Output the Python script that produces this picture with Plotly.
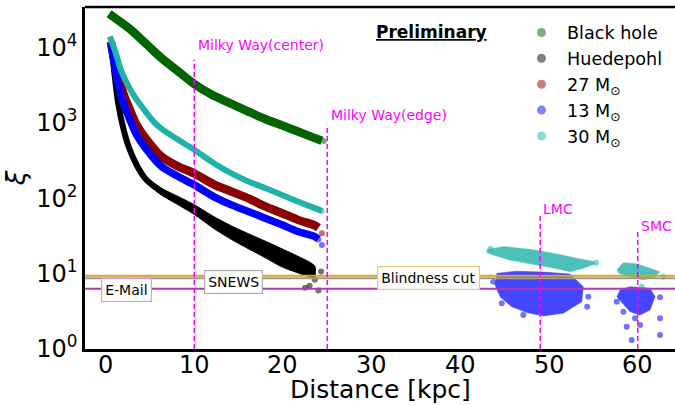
import math
import plotly.graph_objects as go

# ---------------- model curves: distance [kpc] -> xi ----------------
bh_d = [0.4, 2.6, 4.5, 6.3, 8.2, 10.0, 12.0, 14.2, 16.1, 18.0, 19.9, 21.7, 23.6, 24.4]
bh_xi = [28300, 18300, 11500, 7300, 4840, 3300, 2370, 1800, 1420, 1130, 930, 770, 630, 580]

hu_d = [0.7, 0.9, 1.4, 2.0, 2.6, 3.5, 4.5, 6.3, 8.2, 10.0, 12.3, 14.2, 16.1, 18.0, 19.9, 21.7, 22.9, 23.6]
hu_xi = [10000, 5900, 1930, 857, 488, 279, 182, 123, 93, 71, 47, 35, 27, 21, 16.2, 13.2, 11.5, 10.7]
# half-width of the Huedepohl scatter band (decades)
hu_spread = [0.02, 0.02, 0.02, 0.02, 0.025, 0.03, 0.035, 0.045, 0.055, 0.065,
             0.08, 0.09, 0.10, 0.11, 0.12, 0.11, 0.10, 0.07]

m27_d = [0.6, 1.4, 2.0, 2.6, 3.5, 4.5, 6.3, 8.2, 10.0, 12.3, 14.2, 16.1, 18.0, 19.9, 21.7, 23.6, 24.0]
m27_xi = [12000, 4380, 2500, 1660, 948, 631, 360, 265, 214, 151, 123, 100, 78, 63.5, 51.8, 43.6, 40.7]

m13_d = [0.6, 1.4, 2.0, 2.6, 3.5, 4.5, 6.3, 8.2, 10.0, 12.3, 14.2, 16.1, 18.0, 19.9, 21.7, 23.6, 24.0]
m13_xi = [11200, 3400, 1840, 1220, 698, 465, 265, 195, 151, 104, 82, 66.8, 54.6, 44.5, 36.2, 31.0, 28.8]

m30_d = [0.5, 1.1, 1.8, 2.6, 3.5, 4.5, 5.4, 6.3, 8.2, 10.0, 12.3, 14.2, 16.1, 18.0, 19.9, 21.7, 23.6, 24.4]
m30_xi = [14100, 8900, 4840, 3060, 2040, 1430, 1050, 840, 598, 442, 288, 214, 167, 137, 111, 90.6, 74.1, 68.2]

# isolated points at the ends of the bands
bh_out_d, bh_out_xi = [24.6], [575]
hu_out_d = [22.5, 23.0, 24.0, 24.3, 23.6]
hu_out_xi = [6.5, 6.9, 6.0, 10.7, 8.3]
m27_out_d, m27_out_xi = [24.4], [34.4]

# ---------------- Magellanic clouds (outline of dense cores) ----------------
lmc30_d = [42.97, 44.85, 47.86, 50.87, 53.12, 55.0, 55.19, 53.87, 52.37, 50.11, 47.86, 45.6, 43.72, 42.97]
lmc30_xi = [20.7, 22.9, 21.1, 18.3, 16.0, 14.5, 13.5, 11.8, 10.6, 12.2, 13.5, 15.2, 17.7, 19.1]
lmc13_d = [44.1, 46.36, 49.36, 52.37, 53.87, 53.69, 51.61, 49.36, 47.49, 45.79, 44.48, 43.91]
lmc13_xi = [10.1, 10.8, 10.5, 9.9, 6.7, 4.25, 2.98, 2.75, 3.04, 3.65, 4.95, 7.1]
smc30_d = [57.63, 58.38, 59.88, 61.39, 62.51, 61.95, 60.63, 59.13, 57.87]
smc30_xi = [11.2, 14.0, 13.5, 11.8, 10.6, 9.1, 8.3, 9.0, 10.1]
smc13_d = [58.0, 59.13, 61.39, 61.95, 61.39, 60.26, 59.13, 58.25, 57.63]
smc13_xi = [6.1, 6.7, 6.4, 4.95, 3.3, 2.83, 3.13, 4.05, 4.95]

m13_out_d = [44.67, 43.72, 54.3, 54.43, 47.1, 58.76, 59.32, 62.51, 62.51, 60.26, 59.7, 57.63, 62.51, 58.38, 24.0, 24.4]
m13_out_xi = [4.05, 7.8, 3.65, 4.95, 2.83, 1.98, 1.32, 1.53, 2.56, 2.08, 2.56, 4.25, 4.86, 3.13, 28.5, 24.0]
m30_out_d = [62.89, 60.45, 43.4, 55.3, 24.4]
m30_out_xi = [9.1, 6.7, 21.5, 14.0, 68]

# ---------------- alert thresholds and source distances ----------------
blind_cut = 9.4
snews_cut = 8.7
email_cut = 6.3
src_names = ["Milky Way(center)", "Milky Way(edge)", "LMC", "SMC"]
src_dist = [10, 25, 49, 60]
src_top = [6900, 950, 60, 38]
src_label_y = [11000, 1260, 72, 43]

x_ticks = [0, 10, 20, 30, 40, 50, 60]

C_BH, C_HU, C_27, C_13, C_30 = "#006400", "#000000", "#8b0000", "#0000ff", "#20b2aa"
FONT = "DejaVu Sans"

fig = go.Figure()


def line(d, xi, color, width):
    fig.add_trace(go.Scatter(x=d, y=xi, mode="lines", showlegend=False, hoverinfo="skip",
                             line=dict(color=color, width=width, shape="spline", smoothing=0.8)))


def dots(d, xi, color, size=6, alpha=0.55):
    fig.add_trace(go.Scatter(x=d, y=xi, mode="markers", showlegend=False, hoverinfo="skip",
                             marker=dict(color=color, size=size, opacity=alpha, line=dict(width=0))))


def blob(d, xi, color, alpha):
    fig.add_trace(go.Scatter(x=d, y=xi, mode="lines", fill="toself", fillcolor=color,
                             opacity=alpha, showlegend=False, hoverinfo="skip",
                             line=dict(color=color, width=0.5)))


# Huedepohl band widening with distance
hu_up = [v * 10 ** s for v, s in zip(hu_xi, hu_spread)]
hu_lo = [v / 10 ** s for v, s in zip(hu_xi, hu_spread)]
fig.add_trace(go.Scatter(x=hu_d + hu_d[::-1], y=hu_up + hu_lo[::-1], mode="lines",
                         fill="toself", fillcolor=C_HU,
                         line=dict(color=C_HU, width=1, shape="spline", smoothing=0.6),
                         showlegend=False, hoverinfo="skip"))

line(bh_d, bh_xi, C_BH, 8.5)
line(hu_d, hu_xi, C_HU, 6)
line(m27_d, m27_xi, C_27, 8.5)
line(m13_d, m13_xi, C_13, 7.5)
line(m30_d, m30_xi, C_30, 6)

dots(bh_out_d, bh_out_xi, C_BH)
dots(hu_out_d, hu_out_xi, C_HU)
dots(m27_out_d, m27_out_xi, C_27)

blob(lmc13_d, lmc13_xi, C_13, 0.72)
blob(smc13_d, smc13_xi, C_13, 0.72)
dots(m13_out_d, m13_out_xi, C_13)
blob(lmc30_d, lmc30_xi, C_30, 0.8)
blob(smc30_d, smc30_xi, C_30, 0.8)
dots(m30_out_d, m30_out_xi, C_30)

# horizontal alert thresholds
for val, col in [(email_cut, "#b03ab0"), (snews_cut, "#9a9a9a"), (blind_cut, "#daa520")]:
    fig.add_trace(go.Scatter(x=[-5, 70], y=[val, val], mode="lines", showlegend=False,
                             hoverinfo="skip", line=dict(color=col, width=2)))

# vertical source distances
for d, top in zip(src_dist, src_top):
    fig.add_trace(go.Scatter(x=[d, d], y=[1, top], mode="lines", showlegend=False,
                             hoverinfo="skip",
                             line=dict(color="#ff00ff", width=1.5, dash="5px,3px")))

# legend entries
for name, col in [("Black hole", C_BH), ("Huedepohl", C_HU),
                  ("27 M<sub>⊙</sub>", C_27), ("13 M<sub>⊙</sub>", C_13),
                  ("30 M<sub>⊙</sub>", C_30)]:
    fig.add_trace(go.Scatter(x=[None], y=[None], mode="markers", name=name,
                             marker=dict(color=col, size=9, opacity=0.5)))

ann = []
for name, d, ly in zip(src_names, src_dist, src_label_y):
    ann.append(dict(x=d + 0.15, y=math.log10(ly), xref="x", yref="y", text=name,
                    showarrow=False, xanchor="left", yanchor="middle",
                    font=dict(family=FONT, size=14, color="#ff00ff")))

for text, d, val, border in [("E-Mail", 2.42, 5.99, "#d8a0d8"),
                             ("SNEWS", 14.43, 7.78, "#b0b0b0"),
                             ("Blindness cut", 36.36, 8.65, "#e8c878")]:
    ann.append(dict(x=d, y=math.log10(val), xref="x", yref="y", text=text,
                    showarrow=False, xanchor="center", yanchor="middle",
                    bgcolor="white", bordercolor=border, borderwidth=1.2, borderpad=3,
                    font=dict(family=FONT, size=14, color="black")))

ann.append(dict(x=0.588, y=0.927, xref="paper", yref="paper",
                text="<b><u>Preliminary</u></b>", showarrow=False,
                xanchor="center", yanchor="middle",
                font=dict(family=FONT, size=17, color="black")))

# x tick labels, placed on the distance axis
for t in x_ticks:
    ann.append(dict(x=t, y=-0.047, xref="x", yref="paper", text=str(t),
                    showarrow=False, xanchor="center", yanchor="middle",
                    font=dict(family=FONT, size=24, color="black")))

# x-axis title
ann.append(dict(x=0.5, y=-0.117, xref="paper", yref="paper", text="Distance [kpc]",
                showarrow=False, xanchor="center", yanchor="middle",
                font=dict(family=FONT, size=25, color="black")))

fig.update_layout(
    width=675, height=405,
    margin=dict(l=85, r=0, t=7, b=56),
    paper_bgcolor="white", plot_bgcolor="white",
    font=dict(family=FONT, color="black"),
    annotations=ann,
    shapes=[dict(type="line", xref="paper", yref="paper", x0=0, x1=1, y0=1, y1=1,
                 line=dict(color="black", width=2.5))],
    legend=dict(x=0.7305, y=0.978, xanchor="left", yanchor="top", itemwidth=41,
                bgcolor="rgba(0,0,0,0)", font=dict(family=FONT, size=17.6, color="black")),
    xaxis=dict(range=[-2.31, 64.2], tickvals=x_ticks, showticklabels=False,
               showgrid=False, zeroline=False, showline=True, linecolor="black",
               linewidth=2.5, ticks=""),
    yaxis=dict(type="log", range=[0, 4.54], tickvals=[1, 10, 100, 1000, 10000],
               ticktext=["10<sup>0</sup>", "10<sup>1</sup>", "10<sup>2</sup>",
                         "10<sup>3</sup>", "10<sup>4</sup>"],
               showgrid=False, zeroline=False, showline=True, linecolor="black",
               linewidth=2.5, ticks="", tickfont=dict(family=FONT, size=24),
               title=dict(text="<i>ξ</i>", font=dict(family=FONT, size=26), standoff=4)),
)

fig.write_html("out.html")
